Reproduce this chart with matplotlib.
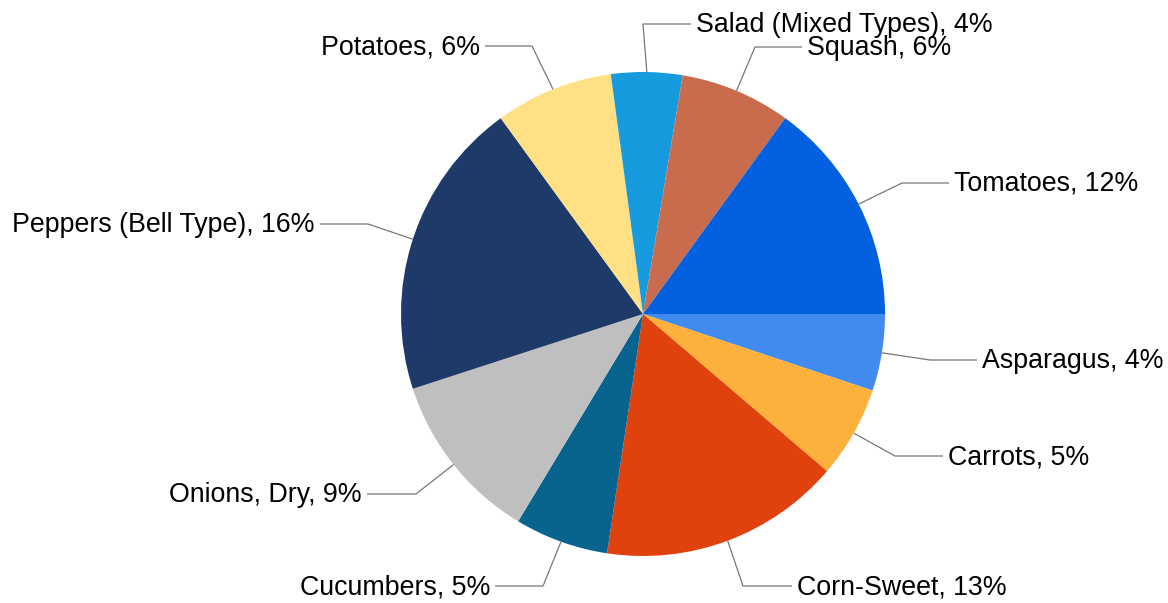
import matplotlib
matplotlib.use("Agg")
import matplotlib.pyplot as plt
import numpy as np

categories = ["Asparagus", "Carrots", "Corn-Sweet", "Cucumbers", "Onions, Dry",
              "Peppers (Bell Type)", "Potatoes", "Salad (Mixed Types)", "Squash", "Tomatoes"]
values = [4.1, 4.9, 12.9, 5.0, 9.1, 16.0, 6.3, 3.8, 5.9, 12.0]
label_pcts = [4, 5, 13, 5, 9, 16, 6, 4, 6, 12]
colors = ["#418BEF", "#FBB13C", "#E0420D", "#08638F", "#BFBFBF",
          "#1D3A68", "#FFE085", "#169CDE", "#C96B4D", "#0360DE"]

# label layout in pixel coords (y measured from top): elbow x, line y, line end x, side
layout = [(930, 360, 977, "left"), (895, 456, 943, "left"), (743, 586, 792, "left"),
          (543, 586, 495, "right"), (416, 494, 367, "right"), (368, 224, 320, "right"),
          (532, 46, 485, "right"), (643, 24, 691, "left"), (755, 47, 802, "left"),
          (902, 183, 949, "left")]

W, H = 1168, 603
fig = plt.figure(figsize=(W / 100, H / 100), dpi=100)
ax = fig.add_axes([0, 0, 1, 1])

cx, cy, r = 643, H - 314, 242
wedges, _ = ax.pie(values, colors=colors, startangle=0, counterclock=False,
                   center=(cx, cy), radius=r, frame=True,
                   wedgeprops=dict(linewidth=0))
ax.set_xlim(0, W)
ax.set_ylim(0, H)
ax.set_aspect("equal")
ax.axis("off")

for w, cat, pct, (ex, ly, endx, side) in zip(wedges, categories, label_pcts, layout):
    mid = np.deg2rad((w.theta1 + w.theta2) / 2)
    px, py = cx + r * np.cos(mid), cy + r * np.sin(mid)
    yy = H - ly
    ax.plot([px, ex, endx], [py, yy, yy], color="#777777", lw=0.9, solid_capstyle="butt")
    if side == "left":
        ax.text(endx + 5, yy - 8, f"{cat}, {pct}%", ha="left", va="baseline",
                fontsize=19.3, family="Liberation Sans", color="black")
    else:
        ax.text(endx - 5, yy - 8, f"{cat}, {pct}%", ha="right", va="baseline",
                fontsize=19.3, family="Liberation Sans", color="black")

fig.savefig("out.png", dpi=100)
